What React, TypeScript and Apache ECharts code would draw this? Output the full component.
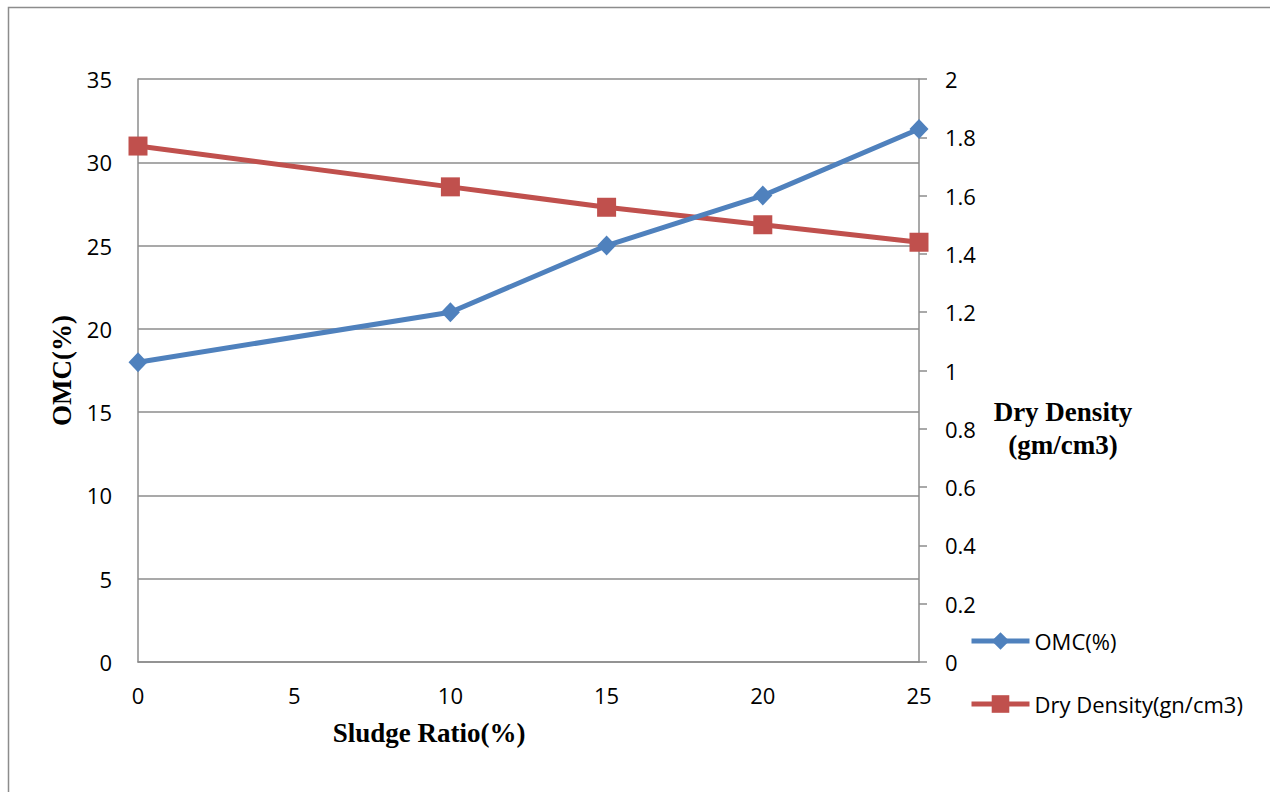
import React, { useEffect, useRef } from "react";
import * as echarts from "echarts";

const sludgeRatio = [0, 10, 15, 20, 25];
const omc = [18, 21, 25, 28, 32];
const dryDensity = [1.77, 1.63, 1.56, 1.5, 1.44];

const BLUE = "#4F81BD";
const RED = "#C0504D";
const GRAY = "#8C8C8C";
const TICK_FONT = "Open Sans";
const TICK_SIZE = 22;

export default function App() {
  const ref = useRef<HTMLDivElement>(null);
  useEffect(() => {
    if (!ref.current) return;
    const chart = echarts.init(ref.current, null, { renderer: "svg" });
    chart.setOption({
      animation: false,
      backgroundColor: "#fff",
      grid: { left: 138, top: 79, right: 351, bottom: 130, containLabel: false },
      graphic: [
        {
          type: "rect",
          shape: { x: 8.5, y: 7.5, width: 1400, height: 900 },
          style: { fill: "none", stroke: GRAY, lineWidth: 1.5 },
          silent: true,
        },
        {
          type: "text",
          x: 429,
          y: 733,
          style: {
            text: "Sludge Ratio(%)",
            font: "bold 27px 'Liberation Serif'",
            fill: "#000",
            align: "center",
            verticalAlign: "middle",
          },
        },
        {
          type: "text",
          x: 1063,
          y: 428,
          style: {
            text: "Dry Density\n(gm/cm3)",
            font: "bold 27px 'Liberation Serif'",
            lineHeight: 33,
            fill: "#000",
            align: "center",
            verticalAlign: "middle",
          },
        },
      ],
      legend: {
        orient: "vertical",
        left: 964,
        top: 625,
        itemWidth: 58,
        itemHeight: 22,
        itemGap: 41,
        textStyle: { fontFamily: TICK_FONT, fontSize: TICK_SIZE, color: "#000" },
        data: [
          { name: "OMC(%)", lineStyle: { width: 5 } },
          { name: "Dry Density(gn/cm3)", lineStyle: { width: 5 } },
        ],
      },
      xAxis: {
        type: "value",
        min: 0,
        max: 25,
        interval: 5,
        axisLine: { show: true, onZero: false, lineStyle: { color: GRAY, width: 1.5 } },
        axisTick: { show: false },
        splitLine: { show: false },
        axisLabel: { margin: 22, fontFamily: TICK_FONT, fontSize: TICK_SIZE, color: "#000" },
      },
      yAxis: [
        {
          type: "value",
          min: 0,
          max: 35,
          interval: 5,
          name: "OMC(%)",
          nameLocation: "middle",
          nameGap: 61,
          nameRotate: 90,
          nameTextStyle: {
            fontFamily: "Liberation Serif",
            fontWeight: "bold",
            fontSize: 27,
            color: "#000",
          },
          axisLine: { show: true, lineStyle: { color: GRAY, width: 1.5 } },
          axisTick: { show: false },
          splitLine: { show: true, lineStyle: { color: GRAY, width: 1.5 } },
          axisLabel: { margin: 26, fontFamily: TICK_FONT, fontSize: TICK_SIZE, color: "#000" },
        },
        {
          type: "value",
          min: 0,
          max: 2,
          interval: 0.2,
          position: "right",
          axisLine: { show: true, lineStyle: { color: GRAY, width: 1.5 } },
          axisTick: { show: true, length: 8, lineStyle: { color: GRAY, width: 1.5 } },
          splitLine: { show: false },
          axisLabel: { margin: 26, fontFamily: TICK_FONT, fontSize: TICK_SIZE, color: "#000" },
        },
      ],
      series: [
        {
          name: "OMC(%)",
          type: "line",
          yAxisIndex: 0,
          data: sludgeRatio.map((x, i) => [x, omc[i]]),
          symbol: "diamond",
          symbolSize: [19, 20],
          lineStyle: { color: BLUE, width: 5 },
          itemStyle: { color: BLUE },
          z: 3,
        },
        {
          name: "Dry Density(gn/cm3)",
          type: "line",
          yAxisIndex: 1,
          data: sludgeRatio.map((x, i) => [x, dryDensity[i]]),
          symbol: "rect",
          symbolSize: 19,
          lineStyle: { color: RED, width: 5 },
          itemStyle: { color: RED },
          z: 2,
        },
      ],
    });
    return () => chart.dispose();
  }, []);
  return (
    <div
      ref={ref}
      style={{ position: "absolute", left: 0, top: 0, width: 1270, height: 792 }}
    />
  );
}
